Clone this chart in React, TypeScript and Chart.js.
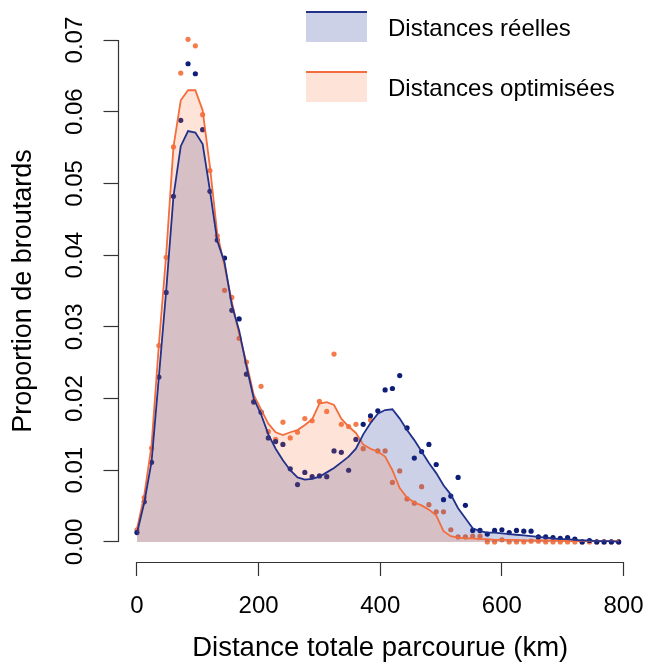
import React, { useEffect, useRef } from "react";
import { Chart, registerables } from "chart.js";

Chart.register(...registerables);

// Distance (km) of each histogram bin
const distances = [
  0, 12, 24, 36, 48, 60, 72, 84, 96, 108, 120, 132, 144, 156, 168, 180, 192, 204, 216, 228,
  240, 252, 264, 276, 288, 300, 312, 324, 336, 348, 360, 372, 384, 396, 408, 420, 432, 444, 456, 468,
  480, 492, 504, 516, 528, 540, 552, 564, 576, 588, 600, 612, 624, 636, 648, 660, 672, 684, 696, 708,
  720, 732, 744, 756, 768, 780, 792,
];

// Observed proportions (points) — real distances
const realPoints = [
  0.0013, 0.0056, 0.0111, 0.023, 0.0348, 0.0482, 0.0588, 0.0667, 0.0653, 0.0575,
  0.0489, 0.0421, 0.0396, 0.0323, 0.0311, 0.0234, 0.0195, 0.0181, 0.0145, 0.014,
  0.0136, 0.0102, 0.008, 0.0097, 0.0091, 0.0092, 0.0091, 0.0127, 0.0125, 0.01,
  0.0143, 0.0164, 0.0176, 0.0183, 0.0212, 0.0214, 0.0232, 0.0159, 0.0117, 0.0126,
  0.0136, 0.0108, 0.0059, 0.0064, 0.009, 0.0051, 0.0016, 0.0016, 0.0011, 0.0016,
  0.0017, 0.0013, 0.0016, 0.0015, 0.0015, 0.0007, 0.0007, 0.0006, 0.0005, 0.0006,
  0.0004, 0.0, 0.0002, 0.0, 0.0, 0.0, 0.0,
];

// Observed proportions (points) — optimised distances
const optPoints = [
  0.0017, 0.0062, 0.0131, 0.0274, 0.0397, 0.0551, 0.0654, 0.0701, 0.0692, 0.0596,
  0.0518, 0.0427, 0.0351, 0.0341, 0.0284, 0.0251, 0.0196, 0.0217, 0.0154, 0.0143,
  0.0167, 0.0145, 0.0153, 0.0172, 0.0169, 0.0196, 0.0182, 0.0262, 0.0164, 0.0161,
  0.0164, 0.013, 0.017, 0.0127, 0.0127, 0.0083, 0.0099, 0.006, 0.0054, 0.0077,
  0.0052, 0.0042, 0.0042, 0.0017, 0.0007, 0.0007, 0.0008, 0.0008, 0.0, 0.0,
  0.0003, 0.0, 0.0, 0.0, 0.0001, 0.0001, 0.0, 0.0, 0.0, 0.0,
  0.0, 0.0, 0.0, 0.0, 0.0, 0.0, 0.0,
];

// Smoothed curves
const realCurve = [
  0.0012, 0.0055, 0.0112, 0.023, 0.035, 0.0482, 0.0552, 0.0573, 0.0571, 0.0555,
  0.049, 0.042, 0.039, 0.033, 0.0295, 0.0245, 0.02, 0.0178, 0.015, 0.013,
  0.0114, 0.01, 0.009, 0.0087, 0.0088, 0.0091, 0.0097, 0.0103, 0.0111, 0.0119,
  0.013, 0.015, 0.0166, 0.0179, 0.0184, 0.0185, 0.0172, 0.0156, 0.0142, 0.0126,
  0.011, 0.0096, 0.0079, 0.0066, 0.0047, 0.0033, 0.0019, 0.0015, 0.0013, 0.0013,
  0.0012, 0.0011, 0.001, 0.0009, 0.0008, 0.0007, 0.0006, 0.0005, 0.0004, 0.0004,
  0.0003, 0.0002, 0.0002, 0.0001, 0.0001, 0.0001, 0.0,
];

const optCurve = [
  0.0018, 0.0065, 0.0135, 0.0275, 0.04, 0.0551, 0.0616, 0.063, 0.063, 0.0602,
  0.0523, 0.043, 0.0385, 0.0335, 0.029, 0.025, 0.0205, 0.0185, 0.0165, 0.0153,
  0.0149, 0.0153, 0.0156, 0.0163, 0.0171, 0.0193, 0.0195, 0.0191, 0.0172, 0.0161,
  0.0152, 0.0136, 0.013, 0.0126, 0.0119, 0.01, 0.0075, 0.0062, 0.0055, 0.0051,
  0.0045, 0.0037, 0.0015, 0.0008, 0.0006, 0.0005, 0.0005, 0.0004, 0.0004, 0.0003,
  0.0003, 0.0003, 0.0003, 0.0002, 0.0002, 0.0002, 0.0002, 0.0002, 0.0002, 0.0001,
  0.0001, 0.0001, 0.0001, 0.0001, 0.0001, 0.0001, 0.0001,
];

const xTicks = [0, 200, 400, 600, 800];
const yTicks = [0, 0.01, 0.02, 0.03, 0.04, 0.05, 0.06, 0.07];
const seriesLabels = ["Distances réelles", "Distances optimisées"];
const xTitle = "Distance totale parcourue (km)";
const yTitle = "Proportion de broutards";

const FONT = "'Liberation Sans', Arial, Helvetica, sans-serif";
const BLUE_LINE = "#22318a";
const BLUE_POINT = "#0e1e78";
const BLUE_FILL = "rgba(25,45,145,0.22)";
const ORANGE_LINE = "#f36d3d";
const ORANGE_POINT = "#f47b4c";
const ORANGE_FILL = "rgba(250,115,60,0.2)";
const AXIS = "#333333";

const toXY = (ys: number[]) => distances.map((x, i) => ({ x, y: ys[i] }));

const axisLines = {
  id: "axisLines",
  afterDraw(chart: any) {
    const { ctx, chartArea, scales } = chart;
    const xs = scales.x;
    const ys = scales.y;
    ctx.save();
    ctx.strokeStyle = AXIS;
    ctx.lineWidth = 1.2;
    ctx.beginPath();
    const yb = Math.round(chartArea.bottom) + 0.5;
    ctx.moveTo(xs.getPixelForValue(xTicks[0]), yb);
    ctx.lineTo(xs.getPixelForValue(xTicks[xTicks.length - 1]), yb);
    const xl = Math.round(chartArea.left) + 0.5;
    ctx.moveTo(xl, ys.getPixelForValue(yTicks[0]));
    ctx.lineTo(xl, ys.getPixelForValue(yTicks[yTicks.length - 1]));
    ctx.stroke();
    ctx.restore();
  },
};

export default function App() {
  const ref = useRef<HTMLCanvasElement | null>(null);

  useEffect(() => {
    if (!ref.current) return;
    const chart = new Chart(ref.current, {
      type: "line",
      data: {
        datasets: [
          {
            label: "opt-points",
            data: toXY(optPoints),
            showLine: false,
            pointRadius: 2.6,
            pointBorderWidth: 0,
            pointBackgroundColor: ORANGE_POINT,
            backgroundColor: ORANGE_POINT,
            borderColor: "transparent",
            order: 6,
          },
          {
            label: "real-points",
            data: toXY(realPoints),
            showLine: false,
            pointRadius: 2.6,
            pointBorderWidth: 0,
            pointBackgroundColor: BLUE_POINT,
            backgroundColor: BLUE_POINT,
            borderColor: "transparent",
            order: 5,
          },
          {
            label: "real-fill",
            data: toXY(realCurve),
            pointRadius: 0,
            borderWidth: 0,
            borderColor: "transparent",
            backgroundColor: BLUE_FILL,
            fill: "origin",
            tension: 0,
            order: 4,
          },
          {
            label: "opt-fill",
            data: toXY(optCurve),
            pointRadius: 0,
            borderWidth: 0,
            borderColor: "transparent",
            backgroundColor: ORANGE_FILL,
            fill: "origin",
            tension: 0,
            order: 3,
          },
          {
            label: seriesLabels[1],
            data: toXY(optCurve),
            pointRadius: 0,
            borderWidth: 1.8,
            borderColor: ORANGE_LINE,
            fill: false,
            tension: 0,
            order: 2,
          },
          {
            label: seriesLabels[0],
            data: toXY(realCurve),
            pointRadius: 0,
            borderWidth: 1.8,
            borderColor: BLUE_LINE,
            fill: false,
            tension: 0,
            order: 1,
          },
        ],
      },
      options: {
        animation: false,
        responsive: true,
        maintainAspectRatio: false,
        devicePixelRatio: 1,
        events: [],
        layout: { padding: { top: 20, right: 2.5, left: 0, bottom: 0 } },
        plugins: {
          legend: { display: false },
          tooltip: { enabled: false },
        },
        scales: {
          x: {
            type: "linear",
            min: -32,
            max: 832,
            afterBuildTicks: (s: any) => {
              s.ticks = xTicks.map((v) => ({ value: v }));
            },
            afterFit: (s: any) => {
              s.height = 103;
              s.paddingLeft = 0;
              s.paddingRight = 0;
            },
            grid: {
              display: true,
              drawOnChartArea: false,
              drawTicks: true,
              tickLength: 14,
              tickColor: AXIS,
              tickWidth: 1.2,
            },
            border: { display: false },
            ticks: {
              color: "#000",
              font: { family: FONT, size: 24 },
              padding: 15.6,
              maxRotation: 0,
              minRotation: 0,
              autoSkip: false,
              callback: (v: any) => String(v),
            },
            title: {
              display: true,
              text: xTitle,
              color: "#000",
              font: { family: FONT, size: 27.5 },
              padding: { top: 0, bottom: 0 },
            },
          },
          y: {
            type: "linear",
            min: -0.0028,
            max: 0.0728,
            afterBuildTicks: (s: any) => {
              s.ticks = yTicks.map((v) => ({ value: v }));
            },
            afterFit: (s: any) => {
              s.width = 117.5;
              s.paddingTop = 0;
              s.paddingBottom = 0;
            },
            grid: {
              display: true,
              drawOnChartArea: false,
              drawTicks: true,
              tickLength: 14,
              tickColor: AXIS,
              tickWidth: 1.2,
            },
            border: { display: false },
            ticks: {
              color: "#000",
              font: { family: FONT, size: 24 },
              padding: 5,
              minRotation: 90,
              maxRotation: 90,
              crossAlign: "center",
              autoSkip: false,
              callback: (v: any) => Number(v).toFixed(2),
            },
            title: {
              display: true,
              text: yTitle,
              color: "#000",
              font: { family: FONT, size: 27 },
              padding: { top: 7.5, bottom: 0 },
            },
          },
        },
      },
      plugins: [axisLines],
    } as any);
    return () => chart.destroy();
  }, []);

  const legendText: React.CSSProperties = {
    position: "absolute",
    left: 388,
    fontFamily: FONT,
    fontSize: 24,
    lineHeight: "24px",
    color: "#000",
    whiteSpace: "nowrap",
  };

  return (
    <div
      style={{
        position: "fixed",
        left: 0,
        top: 0,
        width: 647,
        height: 665,
        background: "#fff",
      }}
    >
      <canvas ref={ref} />
      <div
        style={{
          position: "absolute",
          left: 306,
          top: 11,
          width: 61,
          height: 31,
          boxSizing: "border-box",
          background: BLUE_FILL,
          borderTop: `2px solid ${BLUE_LINE}`,
        }}
      />
      <div style={{ ...legendText, top: 15.8 }}>{seriesLabels[0]}</div>
      <div
        style={{
          position: "absolute",
          left: 306,
          top: 71,
          width: 61,
          height: 31,
          boxSizing: "border-box",
          background: ORANGE_FILL,
          borderTop: `2px solid ${ORANGE_LINE}`,
        }}
      />
      <div style={{ ...legendText, top: 75.8 }}>{seriesLabels[1]}</div>
    </div>
  );
}
